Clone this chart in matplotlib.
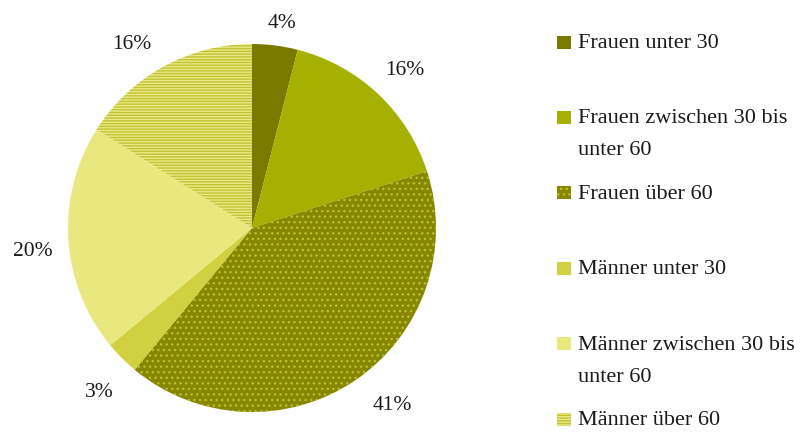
import numpy as np
import matplotlib.pyplot as plt
from matplotlib.patches import Rectangle

# Daten
kategorien = ["Frauen unter 30", "Frauen zwischen 30 bis\nunter 60", "Frauen über 60",
              "Männer unter 30", "Männer zwischen 30 bis\nunter 60", "Männer über 60"]
anteile = [4, 16, 41, 3, 20, 16]

farben = ["#7a7a00", "#a5b000", "#868600", "#d0d040", "#e8e87e", "#eaea86"]
muster = [None, None, "...", None, None, "------"]
musterfarben = [None, None, "#b9c22a", None, None, "#c2c234"]

# Lage der Prozentangaben: Abstand (Radien) und Winkelversatz (Grad)
lab_abstand = [1.125, 1.195, 1.23, 1.22, 1.2, 1.19]
lab_versatz = [-1, -1, 4, 2, 2.5, 4.5]

plt.rcParams['font.family'] = ['Liberation Serif', 'DejaVu Serif']
plt.rcParams['hatch.linewidth'] = 1.0

W, H = 807, 432
fig = plt.figure(figsize=(W / 100, H / 100), dpi=100)

# Kreis: Mitte (252, 228) px, Radius 184 px
cx, cy, r = 252, 228, 184
ax = fig.add_axes([(cx - r) / W, (H - cy - r) / H, 2 * r / W, 2 * r / H])

wedges, texts, autotexts = ax.pie(anteile, colors=farben, startangle=90, counterclock=False,
                                  autopct='%.0f%%', pctdistance=1.2,
                                  wedgeprops=dict(linewidth=0),
                                  textprops=dict(fontsize=15.5, color="#1a1a1a"))
for w, m, mf in zip(wedges, muster, musterfarben):
    if m:
        w.set_hatch(m)
        w.set_edgecolor(mf)
        w.set_linewidth(0)

for w, t, d, v in zip(wedges, autotexts, lab_abstand, lab_versatz):
    mitte = np.deg2rad((w.theta1 + w.theta2) / 2 + v)
    t.set_position((d * np.cos(mitte), d * np.sin(mitte)))

ax.set_xlim(-1, 1)
ax.set_ylim(-1, 1)
ax.set_aspect('equal')

# Legende von Hand
for i, (lab, f, m, mf) in enumerate(zip(kategorien, farben, muster, musterfarben)):
    y = 42 + i * 75.4
    rect = Rectangle((557 / W, 1 - (y + 6.5) / H), 14 / W, 13 / H, transform=fig.transFigure,
                     facecolor=f, edgecolor=mf if mf else f, linewidth=0, hatch=m)
    fig.add_artist(rect)
    for j, zeile in enumerate(lab.split("\n")):
        fig.text(578 / W, 1 - (y + 6 + 32 * j) / H, zeile, fontsize=16, va='baseline',
                 ha='left', color="#1a1a1a")

fig.savefig("out.png", dpi=100)
